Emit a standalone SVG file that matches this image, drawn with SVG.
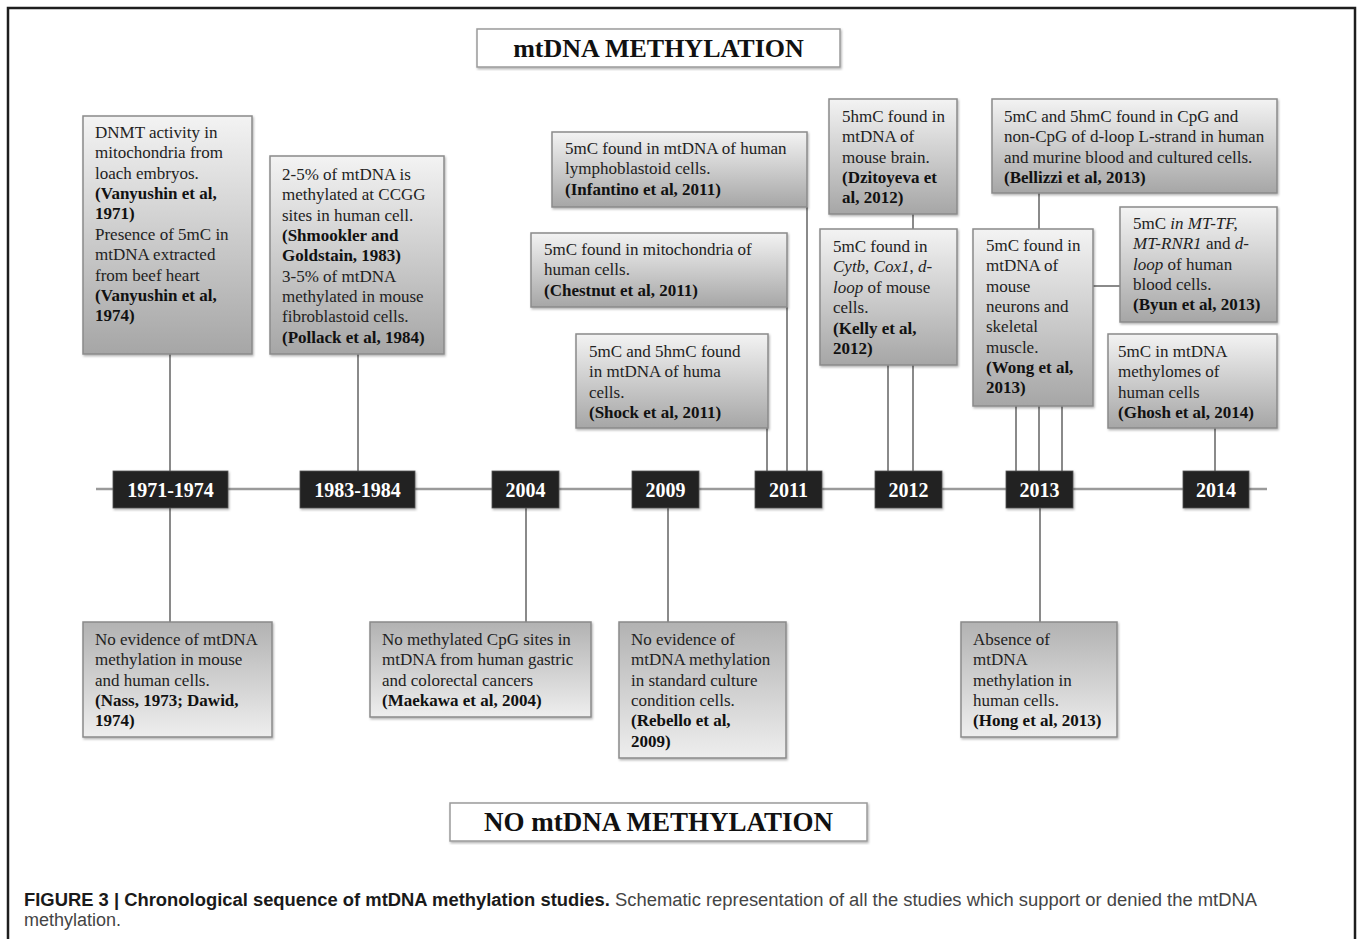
<svg xmlns="http://www.w3.org/2000/svg" width="1357" height="939" viewBox="0 0 1357 939">
<defs>
<linearGradient id="gTop" x1="0" y1="0" x2="0" y2="1">
<stop offset="0" stop-color="#f3f3f3"/>
<stop offset="1" stop-color="#a6a6a6"/>
</linearGradient>
<linearGradient id="gBot" x1="0" y1="0" x2="0" y2="1">
<stop offset="0" stop-color="#b2b2b2"/>
<stop offset="1" stop-color="#eeeeee"/>
</linearGradient>
<filter id="sh" x="-5%" y="-5%" width="115%" height="115%">
<feDropShadow dx="1" dy="1.5" stdDeviation="1" flood-color="#000" flood-opacity="0.3"/>
</filter>
</defs>
<style>
.frame{fill:none;stroke:#1e1e1e;stroke-width:2.5}
.tb{fill:url(#gTop);stroke:#8a8a8a;stroke-width:1.5;filter:url(#sh)}
.bb{fill:url(#gBot);stroke:#8a8a8a;stroke-width:1.5;filter:url(#sh)}
.title{fill:#fff;stroke:#9a9a9a;stroke-width:1.5;filter:url(#sh)}
.yr{fill:#222;stroke:#555;stroke-width:0.8;filter:url(#sh)}
.c{stroke:#8a8a8a;stroke-width:2;fill:none}
.tl{stroke:#9a9a9a;stroke-width:2.5;fill:none}
text{font-family:"Liberation Serif","Times New Roman",serif}
.t{font-size:17px;fill:#222}
.b{font-weight:bold;fill:#111}
.i{font-style:italic}
.yt{font-size:20px;font-weight:bold;fill:#fff;text-anchor:middle}
.ht{font-size:26px;font-weight:bold;fill:#111;text-anchor:middle}
.cap{font-family:"Liberation Sans",Arial,sans-serif;font-size:18px;fill:#444}
.capb{font-weight:bold;fill:#1a1a1a}
</style>

<rect class="frame" x="8" y="8" width="1347" height="945"/>

<g id="connectors">
<line class="tl" x1="96" y1="489" x2="1267" y2="489"/>
<line class="c" x1="170" y1="354" x2="170" y2="471"/>
<line class="c" x1="170" y1="508" x2="170" y2="622"/>
<line class="c" x1="358" y1="354" x2="358" y2="471"/>
<line class="c" x1="526" y1="508" x2="526" y2="622"/>
<line class="c" x1="668" y1="508" x2="668" y2="622"/>
<line class="c" x1="767" y1="428" x2="767" y2="471"/>
<line class="c" x1="787" y1="307" x2="787" y2="471"/>
<line class="c" x1="807" y1="207" x2="807" y2="471"/>
<line class="c" x1="913" y1="214" x2="913" y2="229"/>
<line class="c" x1="888" y1="365" x2="888" y2="471"/>
<line class="c" x1="913" y1="365" x2="913" y2="471"/>
<line class="c" x1="1039" y1="193" x2="1039" y2="229"/>
<line class="c" x1="1093" y1="286" x2="1120" y2="286"/>
<line class="c" x1="1016" y1="406" x2="1016" y2="471"/>
<line class="c" x1="1039" y1="406" x2="1039" y2="471"/>
<line class="c" x1="1062" y1="406" x2="1062" y2="471"/>
<line class="c" x1="1040" y1="508" x2="1040" y2="622"/>
<line class="c" x1="1215" y1="428" x2="1215" y2="471"/>
</g>

<g id="title-top">
<rect class="title" x="477" y="29" width="363" height="38"/>
<text class="ht" x="658.5" y="57">mtDNA METHYLATION</text>
</g>
<g id="title-bottom">
<rect class="title" x="450" y="803" width="417" height="38"/>
<text class="ht" x="658.5" y="831" style="font-size:27px">NO mtDNA METHYLATION</text>
</g>

<g id="y1971"><rect class="yr" x="113" y="471" width="115" height="37"/><text class="yt" x="170.5" y="497">1971-1974</text></g>
<g id="y1983"><rect class="yr" x="300" y="471" width="115" height="37"/><text class="yt" x="357.5" y="497">1983-1984</text></g>
<g id="y2004"><rect class="yr" x="492" y="471" width="67" height="37"/><text class="yt" x="525.5" y="497">2004</text></g>
<g id="y2009"><rect class="yr" x="632" y="471" width="67" height="37"/><text class="yt" x="665.5" y="497">2009</text></g>
<g id="y2011"><rect class="yr" x="755" y="471" width="67" height="37"/><text class="yt" x="788.5" y="497">2011</text></g>
<g id="y2012"><rect class="yr" x="875" y="471" width="67" height="37"/><text class="yt" x="908.5" y="497">2012</text></g>
<g id="y2013"><rect class="yr" x="1006" y="471" width="67" height="37"/><text class="yt" x="1039.5" y="497">2013</text></g>
<g id="y2014"><rect class="yr" x="1183" y="471" width="66" height="37"/><text class="yt" x="1216" y="497">2014</text></g>

<g id="vanyushin">
<rect class="tb" x="83" y="116" width="169" height="238"/>
<text class="t" x="95" y="138">DNMT activity in</text>
<text class="t" x="95" y="158">mitochondria from</text>
<text class="t" x="95" y="179">loach embryos.</text>
<text class="t b" x="95" y="199">(Vanyushin et al,</text>
<text class="t b" x="95" y="219">1971)</text>
<text class="t" x="95" y="240">Presence of 5mC in</text>
<text class="t" x="95" y="260">mtDNA extracted</text>
<text class="t" x="95" y="281">from beef heart</text>
<text class="t b" x="95" y="301">(Vanyushin et al,</text>
<text class="t b" x="95" y="321">1974)</text>
</g>

<g id="shmookler">
<rect class="tb" x="270" y="156" width="174" height="198"/>
<text class="t" x="282" y="180">2-5% of mtDNA is</text>
<text class="t" x="282" y="200">methylated at CCGG</text>
<text class="t" x="282" y="221">sites in human cell.</text>
<text class="t b" x="282" y="241">(Shmookler and</text>
<text class="t b" x="282" y="261">Goldstain, 1983)</text>
<text class="t" x="282" y="282">3-5% of mtDNA</text>
<text class="t" x="282" y="302">methylated in mouse</text>
<text class="t" x="282" y="322">fibroblastoid cells.</text>
<text class="t b" x="282" y="343">(Pollack et al, 1984)</text>
</g>

<g id="infantino">
<rect class="tb" x="552" y="132" width="255" height="75"/>
<text class="t" x="565" y="154">5mC found in mtDNA of human</text>
<text class="t" x="565" y="174">lymphoblastoid cells.</text>
<text class="t b" x="565" y="195">(Infantino et al, 2011)</text>
</g>

<g id="chestnut">
<rect class="tb" x="531" y="233" width="256" height="74"/>
<text class="t" x="544" y="255">5mC found in mitochondria  of</text>
<text class="t" x="544" y="275">human cells.</text>
<text class="t b" x="544" y="296">(Chestnut et al, 2011)</text>
</g>

<g id="shock">
<rect class="tb" x="576" y="334" width="192" height="94"/>
<text class="t" x="589" y="357">5mC and 5hmC found</text>
<text class="t" x="589" y="377">in mtDNA of huma</text>
<text class="t" x="589" y="398">cells.</text>
<text class="t b" x="589" y="418">(Shock et al, 2011)</text>
</g>

<g id="dzitoyeva">
<rect class="tb" x="829" y="99" width="128" height="115"/>
<text class="t" x="842" y="122">5hmC found in</text>
<text class="t" x="842" y="142">mtDNA of</text>
<text class="t" x="842" y="163">mouse brain.</text>
<text class="t b" x="842" y="183">(Dzitoyeva et</text>
<text class="t b" x="842" y="203">al, 2012)</text>
</g>

<g id="kelly">
<rect class="tb" x="820" y="229" width="137" height="136"/>
<text class="t" x="833" y="252">5mC found in</text>
<text class="t" x="833" y="272"><tspan class="i">Cytb</tspan>, <tspan class="i">Cox1</tspan>, <tspan class="i">d-</tspan></text>
<text class="t" x="833" y="293"><tspan class="i">loop</tspan> of mouse</text>
<text class="t" x="833" y="313">cells.</text>
<text class="t b" x="833" y="334">(Kelly et al,</text>
<text class="t b" x="833" y="354">2012)</text>
</g>

<g id="bellizzi">
<rect class="tb" x="992" y="99" width="285" height="94"/>
<text class="t" x="1004" y="122">5mC and 5hmC found in CpG and</text>
<text class="t" x="1004" y="142">non-CpG of d-loop L-strand in human</text>
<text class="t" x="1004" y="163">and murine blood and cultured cells.</text>
<text class="t b" x="1004" y="183">(Bellizzi et al, 2013)</text>
</g>

<g id="wong">
<rect class="tb" x="973" y="229" width="120" height="177"/>
<text class="t" x="986" y="251">5mC found in</text>
<text class="t" x="986" y="271">mtDNA of</text>
<text class="t" x="986" y="292">mouse</text>
<text class="t" x="986" y="312">neurons and</text>
<text class="t" x="986" y="332">skeletal</text>
<text class="t" x="986" y="353">muscle.</text>
<text class="t b" x="986" y="373">(Wong et al,</text>
<text class="t b" x="986" y="393">2013)</text>
</g>

<g id="byun">
<rect class="tb" x="1120" y="207" width="157" height="115"/>
<text class="t" x="1133" y="229">5mC <tspan class="i">in MT-TF,</tspan></text>
<text class="t" x="1133" y="249"><tspan class="i">MT-RNR1</tspan> and <tspan class="i">d-</tspan></text>
<text class="t" x="1133" y="270"><tspan class="i">loop</tspan> of human</text>
<text class="t" x="1133" y="290">blood cells.</text>
<text class="t b" x="1133" y="310">(Byun et al, 2013)</text>
</g>

<g id="ghosh">
<rect class="tb" x="1108" y="334" width="169" height="94"/>
<text class="t" x="1118" y="357">5mC in mtDNA</text>
<text class="t" x="1118" y="377">methylomes of</text>
<text class="t" x="1118" y="398">human cells</text>
<text class="t b" x="1118" y="418">(Ghosh et al, 2014)</text>
</g>

<g id="nass">
<rect class="bb" x="83" y="622" width="189" height="115"/>
<text class="t" x="95" y="645">No evidence of mtDNA</text>
<text class="t" x="95" y="665">methylation in mouse</text>
<text class="t" x="95" y="686">and human cells.</text>
<text class="t b" x="95" y="706">(Nass, 1973; Dawid,</text>
<text class="t b" x="95" y="726">1974)</text>
</g>

<g id="maekawa">
<rect class="bb" x="370" y="622" width="221" height="95"/>
<text class="t" x="382" y="645">No methylated CpG sites in</text>
<text class="t" x="382" y="665">mtDNA from human gastric</text>
<text class="t" x="382" y="686">and colorectal  cancers</text>
<text class="t b" x="382" y="706">(Maekawa et al, 2004)</text>
</g>

<g id="rebello">
<rect class="bb" x="619" y="622" width="167" height="136"/>
<text class="t" x="631" y="645">No evidence of</text>
<text class="t" x="631" y="665">mtDNA methylation</text>
<text class="t" x="631" y="686">in standard culture</text>
<text class="t" x="631" y="706">condition cells.</text>
<text class="t b" x="631" y="726">(Rebello et al,</text>
<text class="t b" x="631" y="747">2009)</text>
</g>

<g id="hong">
<rect class="bb" x="961" y="622" width="156" height="115"/>
<text class="t" x="973" y="645">Absence of</text>
<text class="t" x="973" y="665">mtDNA</text>
<text class="t" x="973" y="686">methylation in</text>
<text class="t" x="973" y="706">human cells.</text>
<text class="t b" x="973" y="726">(Hong et al, 2013)</text>
</g>

<g id="caption">
<text class="cap" x="24" y="906" textLength="1233" lengthAdjust="spacingAndGlyphs"><tspan class="capb">FIGURE 3 | Chronological sequence of mtDNA methylation studies.</tspan> Schematic representation of all the studies which support or denied the mtDNA</text>
<text class="cap" x="24" y="926">methylation.</text>
</g>
</svg>
